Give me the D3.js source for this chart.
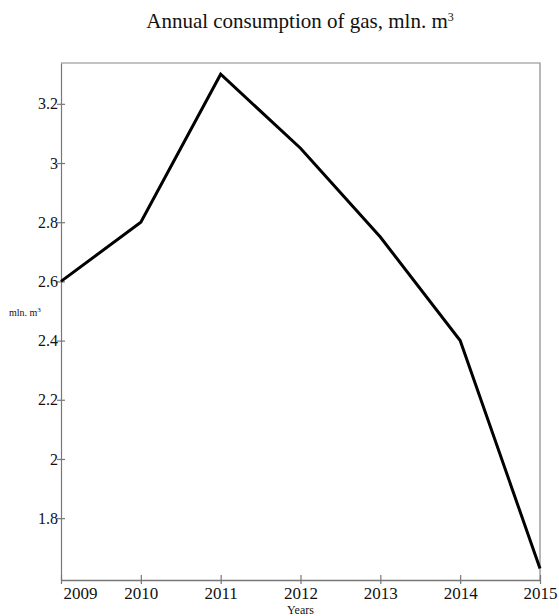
<!DOCTYPE html>
<html>
<head>
<meta charset="utf-8">
<script src="https://d3js.org/d3.v7.min.js"></script>
<style>
  body { margin: 0; background: #fff; }
  text { font-family: "Liberation Serif", "DejaVu Serif", serif; }
</style>
</head>
<body>
<div id="chart"></div>
<script>
var years = [2009, 2010, 2011, 2012, 2013, 2014, 2015];
var gas = [2.6, 2.8, 3.3, 3.05, 2.75, 2.4, 1.63];
var yTicks = [1.8, 2, 2.2, 2.4, 2.6, 2.8, 3, 3.2];

var W = 559, H = 616;
var margin = {top: 63, right: 19, bottom: 36, left: 61},
    width = W - margin.left - margin.right,
    height = H - margin.top - margin.bottom;

var svg = d3.select("#chart")
  .append("svg")
    .attr("width", W)
    .attr("height", H);

var g = svg.append("g")
    .attr("transform", "translate(" + margin.left + "," + margin.top + ")");

var x = d3.scaleLinear()
  .domain([2009, 2015])
  .range([0, width]);

var y = d3.scaleLinear()
  .domain([1.591, 3.338])
  .range([height, 0]);

// frame (top and right)
g.append("path")
  .attr("d", "M0,0H" + width + "V" + height)
  .attr("fill", "none")
  .attr("stroke", "#888")
  .attr("stroke-width", 1.2);

// x axis
var xAxis = g.append("g")
  .attr("transform", "translate(0," + height + ")")
  .call(d3.axisBottom(x).tickValues(years).tickFormat(d3.format("d")).tickSize(0));
xAxis.select(".domain").attr("stroke", "#777").attr("stroke-width", 1.5);
xAxis.selectAll(".tick line")
  .attr("y1", -5).attr("y2", 4)
  .attr("stroke", "#777").attr("stroke-width", 1.2);
xAxis.selectAll(".tick text")
  .attr("y", 7).attr("dy", "0.71em")
  .attr("fill", "#111")
  .style("font-size", "17px")
  .style("font-family", "Liberation Serif");
// first label sits to the right of the axis start
xAxis.selectAll(".tick text")
  .filter(function(d) { return d === years[0]; })
  .attr("text-anchor", "start")
  .attr("x", 2);

// y axis
var yAxis = g.append("g")
  .call(d3.axisLeft(y).tickValues(yTicks).tickFormat(d3.format("")).tickSize(0));
yAxis.select(".domain").attr("stroke", "#777").attr("stroke-width", 1.2);
yAxis.selectAll(".tick line")
  .attr("x1", -4).attr("x2", 4)
  .attr("stroke", "#777").attr("stroke-width", 1.2);
yAxis.selectAll(".tick text")
  .attr("x", -3)
  .attr("fill", "#111")
  .style("font-size", "16px")
  .style("font-family", "Liberation Serif");

// line
var line = d3.line()
  .x(function(d, i) { return x(years[i]); })
  .y(function(d) { return y(d); });

g.append("path")
  .datum(gas)
  .attr("d", line)
  .attr("fill", "none")
  .attr("stroke", "#000")
  .attr("stroke-width", 3)
  .attr("stroke-linejoin", "miter");

// title
var title = svg.append("text")
  .attr("x", 300)
  .attr("y", 28)
  .attr("text-anchor", "middle")
  .style("font-size", "21px")
  .attr("fill", "#111");
title.append("tspan").text("Annual consumption of gas, mln. m");
title.append("tspan").attr("dy", -7).style("font-size", "12px").text("3");

// y label
var ylab = svg.append("text")
  .attr("x", 9)
  .attr("y", 316)
  .style("font-size", "10px")
  .attr("fill", "#111");
ylab.append("tspan").text("mln. m");
ylab.append("tspan").attr("dy", -4).style("font-size", "7px").text("3");

// x label
svg.append("text")
  .attr("x", margin.left + x(2012))
  .attr("y", 614)
  .attr("text-anchor", "middle")
  .style("font-size", "12px")
  .attr("fill", "#111")
  .text("Years");
</script>
</body>
</html>
